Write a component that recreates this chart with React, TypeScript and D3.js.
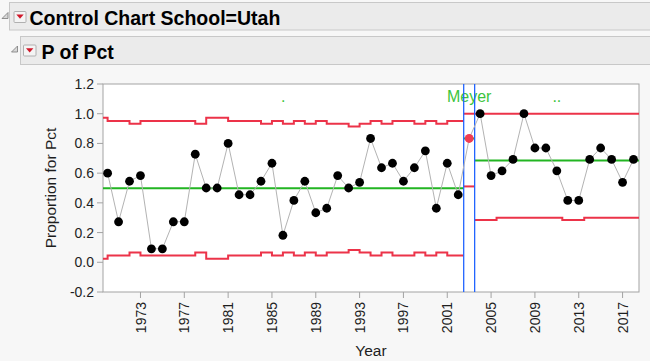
import * as d3 from "d3"

// one sample per school year; the p chart is split into three phases
const years = [
  1970, 1971, 1972, 1973, 1974, 1975, 1976, 1977, 1978, 1979,
  1980, 1981, 1982, 1983, 1984, 1985, 1986, 1987, 1988, 1989,
  1990, 1991, 1992, 1993, 1994, 1995, 1996, 1997, 1998, 1999,
  2000, 2001, 2002, 2003, 2004, 2005, 2006, 2007, 2008, 2009,
  2010, 2011, 2012, 2013, 2014, 2015, 2016, 2017, 2018,
]
const counts = [
  6, 3, 6, 7, 1, 1, 3, 3, 8, 6,
  5, 8, 5, 5, 6, 8, 2, 5, 6, 4,
  4, 7, 6, 7, 10, 7, 8, 6, 7, 9,
  4, 8, 5, 10, 12, 7, 8, 9, 13, 10,
  10, 8, 5, 5, 9, 10, 9, 7, 9,
]
const sizes = [
  10, 11, 11, 12, 11, 11, 11, 11, 11, 12,
  10, 10, 11, 11, 11, 12, 11, 12, 11, 12,
  11, 12, 12, 13, 12, 11, 12, 11, 11, 12,
  11, 12, 11, 12, 12, 12, 13, 13, 13, 13,
  13, 13, 12, 12, 13, 13, 13, 13, 13,
]
const phaseNames = [".", "Meyer", ".."]
const phaseFirstYear = [1970, 2003, 2004]
const flaggedYears = [2003]
const yTicks = [-0.2, 0, 0.2, 0.4, 0.6, 0.8, 1.0, 1.2]
const xTicks = [1973, 1977, 1981, 1985, 1989, 1993, 1997, 2001, 2005, 2009, 2013, 2017]

const FONT = "'Liberation Sans', Arial, sans-serif"
const RED = "#ec3349"
const GREEN = "#22b522"
const GRID = "#a3a3a3"

export default function App() {
  const left = 103, right = 639, top = 84, bottom = 292
  const x = d3.scaleLinear().domain([1969.58, 2018.5]).range([left, right])
  const y = d3.scaleLinear().domain([-0.2, 1.2]).range([bottom, top])
  const clampY = (v: number) => y(Math.max(0, Math.min(1, v)))

  const pts = years.map((yr, i) => ({
    yr,
    p: counts[i] / sizes[i],
    n: sizes[i],
    c: counts[i],
    phase: d3.bisectRight(phaseFirstYear, yr) - 1,
  }))

  const [x0, x1] = x.domain()
  const phases = phaseNames.map((name, k) => {
    const rows = pts.filter(d => d.phase === k)
    const pbar = d3.sum(rows, d => d.c) / d3.sum(rows, d => d.n)
    const start = k === 0 ? x0 : phaseFirstYear[k] - 0.5
    const end = k === phaseNames.length - 1 ? x1 : phaseFirstYear[k + 1] - 0.5
    // first phase limits run from the previous sample up to each sample,
    // the later ones are centred on the sample
    const segs = rows.map((d, i) => {
      const sigma = Math.sqrt(pbar * (1 - pbar) / d.n)
      let a = k === 0 ? d.yr - 1 : d.yr - 0.5
      let b = k === 0 ? d.yr : d.yr + 0.5
      if (i === 0) a = start
      if (i === rows.length - 1) b = end
      return { a, b, ucl: pbar + 3 * sigma, lcl: pbar - 3 * sigma }
    })
    return { name, pbar, start, end, segs }
  })

  const stepPath = (segs: { a: number; b: number }[], val: (s: any) => number) =>
    d3.line<[number, number]>()(
      segs.flatMap(s => [[x(s.a), clampY(val(s))], [x(s.b), clampY(val(s))]] as [number, number][])
    ) as string

  const trail = d3.line<typeof pts[number]>().x(d => x(d.yr)).y(d => y(d.p))(pts) as string

  return (
    <div style={{ position: "fixed", left: 0, top: 0 }}>
      <svg width={650} height={361} style={{ display: "block", fontFamily: FONT }}>
        <rect width={650} height={361} fill="#f7f7f7" />

        {/* outline headers */}
        <rect x={9.5} y={2.5} width={650} height={27.5} fill="#ebebeb" stroke="#c8c8c8" />
        <polygon points="2,18.5 8,12.5 8,18.5" fill="#d8d8d8" stroke="#7a7a7a" strokeWidth={0.8} />
        <rect x={14} y={11.5} width={12} height={11} rx={1} fill="#f4f4f4" stroke="#b0b0b0" />
        <polygon points="16.3,14.6 23.7,14.6 20,18.8" fill="#d0182a" />
        <text x={29.5} y={25.3} fontSize={19.5} fontWeight={700} fill="#000">Control Chart School=Utah</text>

        <rect x={20.5} y={36.5} width={640} height={28} fill="#ebebeb" stroke="#c8c8c8" />
        <polygon points="11.5,52 17.5,46 17.5,52" fill="#d8d8d8" stroke="#7a7a7a" strokeWidth={0.8} />
        <rect x={23.5} y={45} width={12.5} height={11} rx={1} fill="#f4f4f4" stroke="#b0b0b0" />
        <polygon points="26,48.2 33.4,48.2 29.7,52.4" fill="#d0182a" />
        <text x={41.5} y={59.3} fontSize={19.5} fontWeight={700} fill="#000">P of Pct</text>

        {/* plot frame */}
        <rect x={left} y={top} width={right - left} height={bottom - top} fill="#fff" stroke={GRID} />

        {/* y axis */}
        {yTicks.map(t => (
          <g key={t}>
            <line x1={left - 6} x2={left} y1={y(t)} y2={y(t)} stroke={GRID} />
            <text x={left - 9} y={y(t)} dy="0.36em" textAnchor="end" fontSize={14} fill="#1e1e1e">
              {t.toFixed(1)}
            </text>
          </g>
        ))}
        <text transform={`translate(56,${(top + bottom) / 2}) rotate(-90)`} textAnchor="middle"
          fontSize={15.5} fill="#1e1e1e">Proportion for Pct</text>

        {/* x axis */}
        {xTicks.map(t => (
          <g key={t}>
            <line x1={x(t)} x2={x(t)} y1={bottom} y2={bottom + 6} stroke={GRID} />
            <text transform={`translate(${x(t)},${bottom + 10}) rotate(-90)`} dy="0.36em"
              textAnchor="end" fontSize={14} fill="#1e1e1e">{t}</text>
          </g>
        ))}
        <text x={(left + right) / 2} y={356} textAnchor="middle" fontSize={15.5} fill="#1e1e1e">Year</text>

        {/* phases */}
        {phases.map(ph => (
          <g key={ph.name}>
            <path d={stepPath(ph.segs, s => s.ucl)} fill="none" stroke={RED} strokeWidth={2} />
            <path d={stepPath(ph.segs, s => s.lcl)} fill="none" stroke={RED} strokeWidth={2} />
            <line x1={x(ph.start)} x2={x(ph.end)} y1={y(ph.pbar)} y2={y(ph.pbar)} stroke={GREEN} strokeWidth={2} />
            <text x={(x(ph.start) + x(ph.end)) / 2} y={101.5} textAnchor="middle" fontSize={16} fill="#3cc43c">
              {ph.name}
            </text>
          </g>
        ))}
        {phaseFirstYear.slice(1).map(yr => (
          <line key={yr} x1={x(yr - 0.5)} x2={x(yr - 0.5)} y1={top} y2={bottom} stroke="#2264ff" strokeWidth={1.3} />
        ))}

        {/* samples */}
        <path d={trail} fill="none" stroke="#b3b3b3" strokeWidth={1} />
        {pts.map(d => (
          <circle key={d.yr} cx={x(d.yr)} cy={y(d.p)} r={4.4}
            fill={flaggedYears.includes(d.yr) ? "#f03c52" : "#000"} />
        ))}
      </svg>
    </div>
  )
}
